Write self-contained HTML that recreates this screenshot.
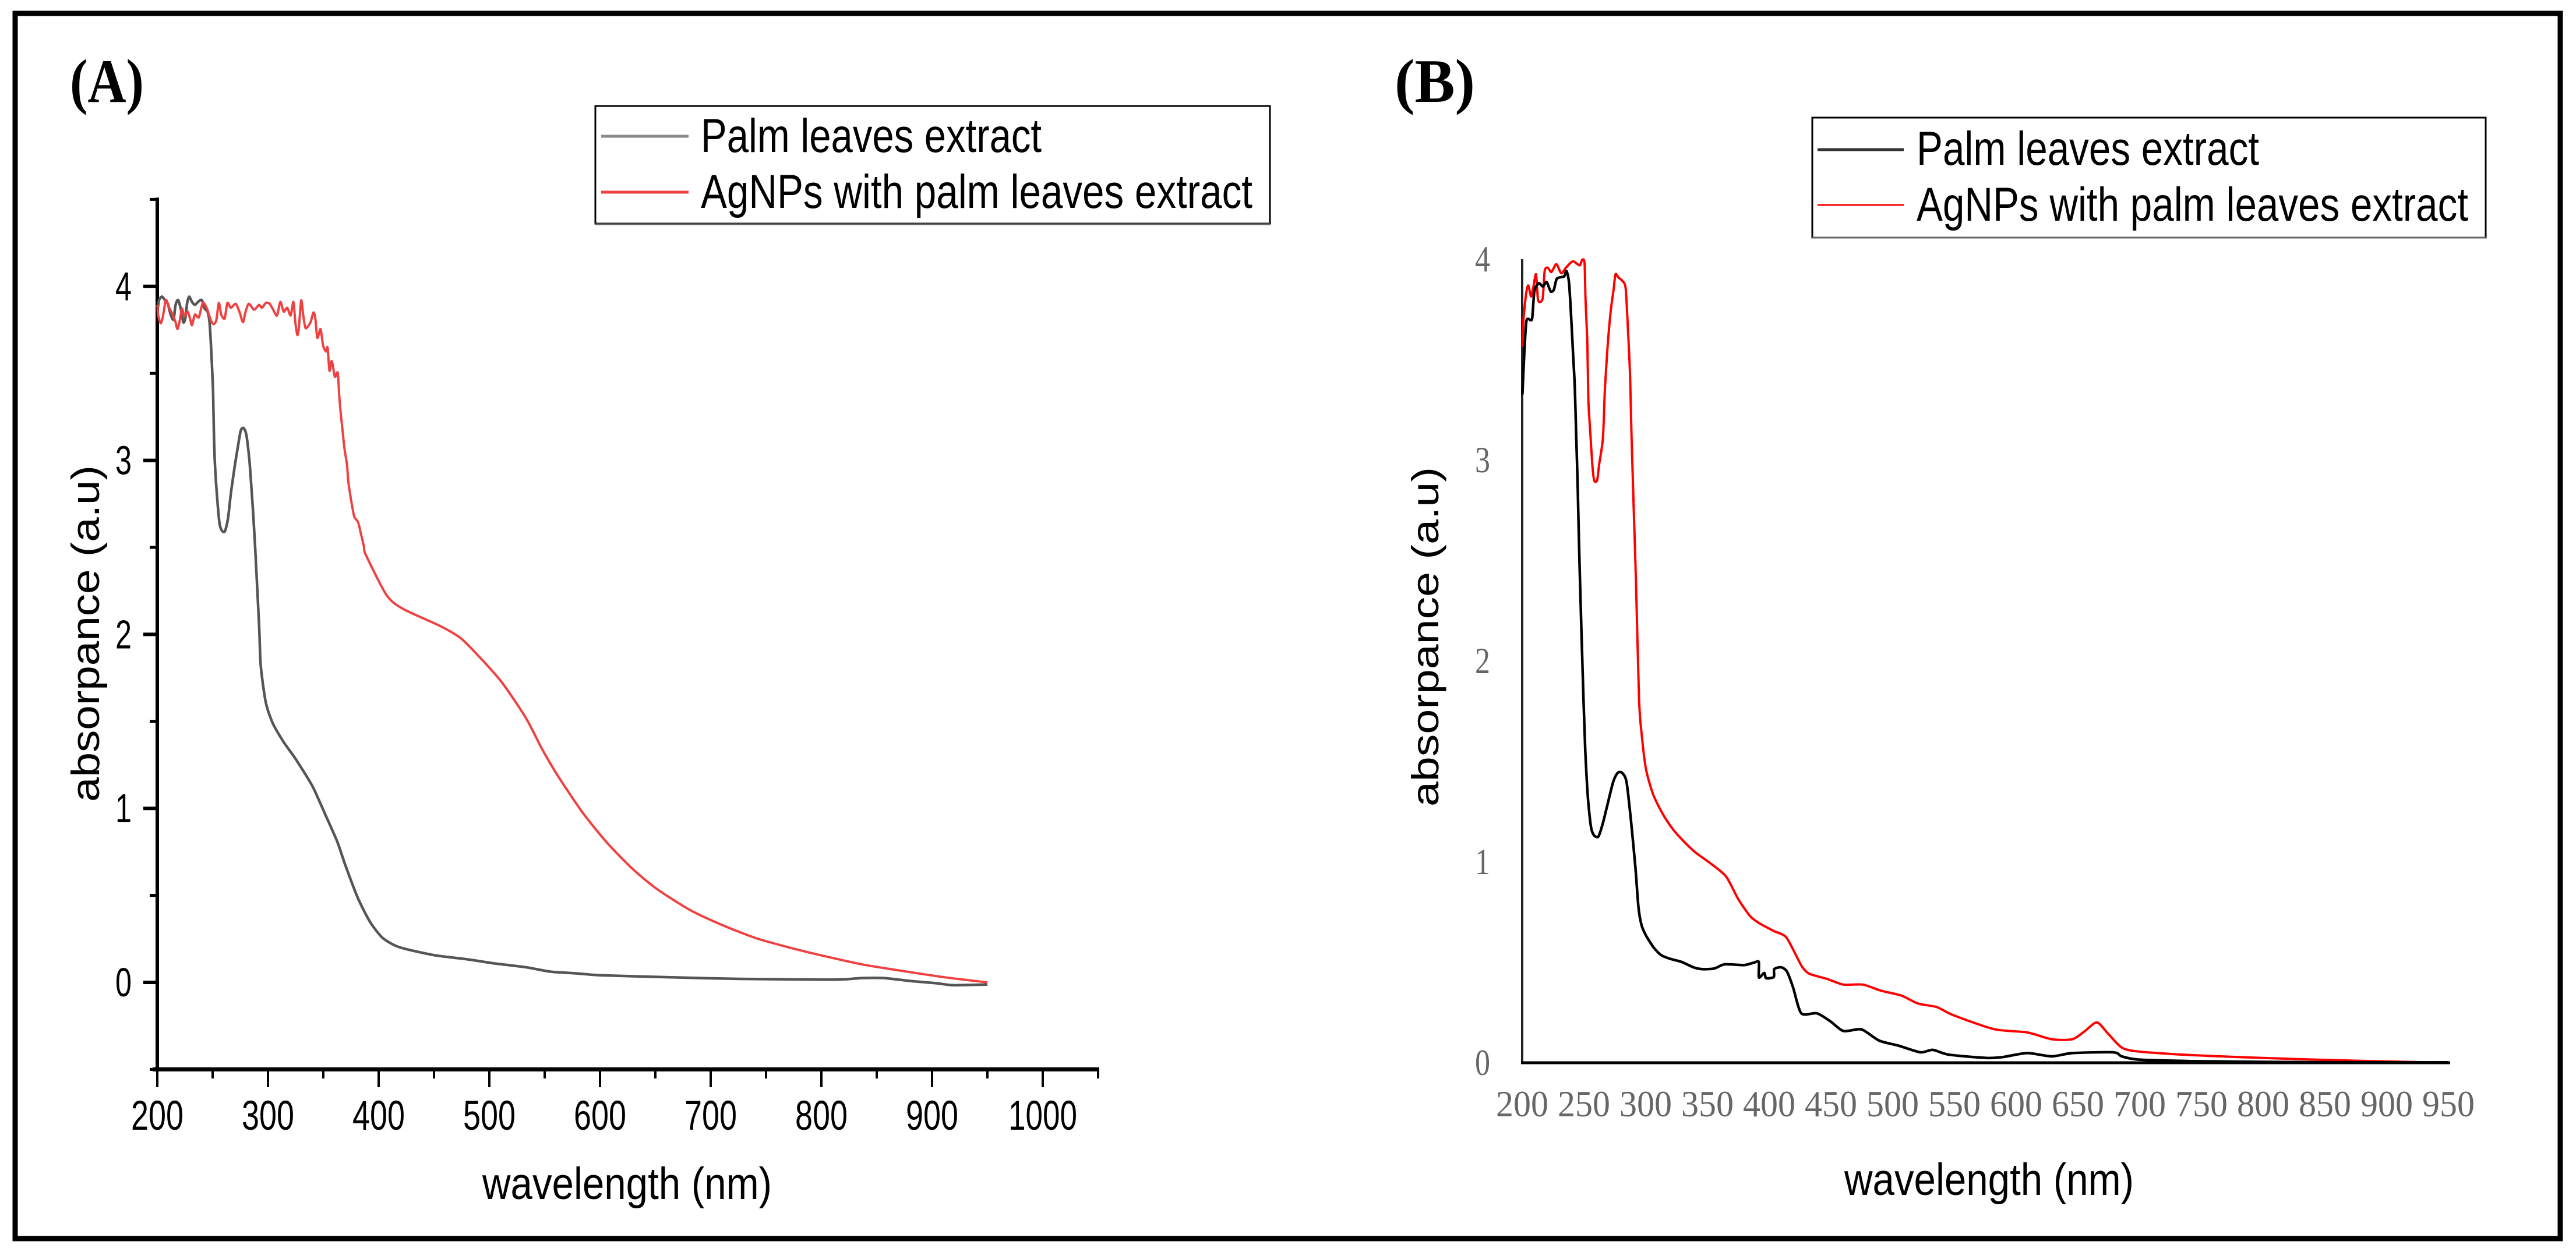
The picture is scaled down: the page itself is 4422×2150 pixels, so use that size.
<!DOCTYPE html>
<html lang="en">
<head>
<meta charset="utf-8">
<title>UV-Vis absorbance spectra</title>
<style>
html,body{margin:0;padding:0;background:#fff;}
svg{display:block;}
</style>
</head>
<body>
<svg id="figure" xmlns="http://www.w3.org/2000/svg" width="4422" height="2150" viewBox="0 0 4422 2150">
  <rect x="0" y="0" width="4422" height="2150" fill="#fff"/>
  <rect x="26" y="23" width="4369" height="2104" fill="none" stroke="#000" stroke-width="9"/>

  <text x="120" y="175" font-family="'Liberation Serif',serif" font-weight="bold" font-size="106" textLength="127" lengthAdjust="spacingAndGlyphs">(A)</text>
  <text x="2394" y="175" font-family="'Liberation Serif',serif" font-weight="bold" font-size="106" textLength="138" lengthAdjust="spacingAndGlyphs">(B)</text>

  <g id="panel-a"></g>
  <g id="panel-b"></g>

  <text transform="translate(170,1377) rotate(-90)" font-family="'Liberation Sans',sans-serif" font-size="68" textLength="578" lengthAdjust="spacingAndGlyphs" fill="#000">absorpance (a.u)</text>
  <text x="828" y="2059" font-family="'Liberation Sans',sans-serif" font-size="77" textLength="497" lengthAdjust="spacingAndGlyphs" fill="#000">wavelength (nm)</text>
  <text transform="translate(2469,1385) rotate(-90)" font-family="'Liberation Sans',sans-serif" font-size="65" textLength="583" lengthAdjust="spacingAndGlyphs" fill="#000">absorpance (a.u)</text>
  <text x="3166" y="2052" font-family="'Liberation Sans',sans-serif" font-size="77" textLength="497" lengthAdjust="spacingAndGlyphs" fill="#000">wavelength (nm)</text>

  <g>
    <rect x="1022" y="182" width="1158" height="202" fill="#fff" stroke="#000" stroke-width="3"/>
    <line x1="1022" y1="385" x2="2180" y2="385" stroke="#666" stroke-width="3"/>
    <line x1="1032" y1="234" x2="1182" y2="234" stroke="#8a8a8a" stroke-width="5"/>
    <text x="1203" y="261" font-family="'Liberation Sans',sans-serif" font-size="82" textLength="585" lengthAdjust="spacingAndGlyphs" fill="#000">Palm leaves extract</text>
    <line x1="1032" y1="330" x2="1182" y2="330" stroke="#f04040" stroke-width="5"/>
    <text x="1203" y="357" font-family="'Liberation Sans',sans-serif" font-size="82" textLength="947" lengthAdjust="spacingAndGlyphs" fill="#000">AgNPs with palm leaves extract</text>
  </g>
  <g>
    <rect x="3111" y="202" width="1156" height="206" fill="#fff" stroke="#000" stroke-width="3"/>
    <line x1="3111" y1="408" x2="4267" y2="408" stroke="#666" stroke-width="3"/>
    <line x1="3120" y1="257" x2="3268" y2="257" stroke="#333" stroke-width="5"/>
    <text x="3290" y="283" font-family="'Liberation Sans',sans-serif" font-size="82" textLength="588" lengthAdjust="spacingAndGlyphs" fill="#000">Palm leaves extract</text>
    <line x1="3120" y1="352" x2="3268" y2="352" stroke="#ff0000" stroke-width="3"/>
    <text x="3290" y="379" font-family="'Liberation Sans',sans-serif" font-size="82" textLength="947" lengthAdjust="spacingAndGlyphs" fill="#000">AgNPs with palm leaves extract</text>
  </g>
</svg>
<script>
var aXMajorTicks = [200,300,400,500,600,700,800,900,1000];
var aXMinorTicks = [250,350,450,550,650,750,850,950,1050];
var aYMajorTicks = [0,1,2,3,4];
var aYMinorTicks = [-0.5,0.5,1.5,2.5,3.5,4.5];
var bXTicks = [200,250,300,350,400,450,500,550,600,650,700,750,800,850,900,950];
var bYTicks = [0,1,2,3,4];

var aExtractWavelength = [200.7,201.6,204.2,206.8,209.5,212.1,214.7,216.5,218.8,221.2,223.5,225.3,227,228.8,231.4,234,236.7,240.2,242.8,245.4,247.2,248.4,249.3,250.4,251.1,251.9,253,254.6,256.3,258.6,261.2,263.9,266.5,270,272.6,275.3,277.9,280.5,283.2,284.9,286.7,288.4,292,293.5,298,304.6,314,325.4,340,351.4,362.5,370,381,392,403,414.4,425.6,451.5,481,503.5,533,555,578,600,659,726,800,822,837,856,882,904,919,950];
var aExtractAbsorbance = [3.883,3.922,3.941,3.922,3.9,3.838,3.81,3.894,3.922,3.872,3.794,3.816,3.905,3.941,3.91,3.894,3.91,3.922,3.872,3.855,3.794,3.671,3.559,3.392,3.169,3.002,2.879,2.745,2.634,2.594,2.594,2.667,2.812,2.968,3.069,3.169,3.186,3.147,3.002,2.857,2.69,2.5,2.05,1.82,1.61,1.486,1.383,1.28,1.13,0.97,0.81,0.672,0.488,0.35,0.259,0.213,0.19,0.155,0.132,0.11,0.087,0.062,0.052,0.041,0.03,0.02,0.016,0.018,0.025,0.025,0.007,-0.005,-0.016,-0.012];

var aAgnpsWavelength = [200.2,200.7,203,205.1,207.7,210.4,213.9,216.5,218.2,220,222.3,224.4,227.5,230,231.4,234,237.5,241.1,244.6,248.1,250.7,253.3,255.6,257.7,260.9,263.3,266.5,270.9,274.4,277.4,279.6,282.6,287.5,291.9,294.6,298.1,301.6,305.1,308.2,311.2,314.2,317.4,320.5,323,324.7,326.5,327.9,330,331.8,334,338.4,341.1,342.8,344.6,347.5,349.8,352.5,353.9,355.6,357.7,360.4,363,364.4,365.6,367.4,369.1,371.4,372.6,374.9,377.9,381.4,384,386.7,388.5,407,421.9,455,473.8,488.6,511,533,548,563,585,607,630,652,681.6,711,741,770.6,800,837,875,911.6,950];
var aAgnpsAbsorbance = [3.894,3.838,3.788,3.827,3.922,3.883,3.838,3.794,3.755,3.794,3.872,3.827,3.855,3.805,3.777,3.838,3.822,3.905,3.877,3.81,3.783,3.805,3.905,3.838,3.816,3.905,3.877,3.9,3.85,3.794,3.85,3.9,3.866,3.894,3.877,3.905,3.9,3.861,3.833,3.911,3.855,3.877,3.833,3.911,3.794,3.721,3.76,3.919,3.838,3.76,3.794,3.85,3.816,3.704,3.755,3.66,3.626,3.649,3.515,3.571,3.481,3.504,3.37,3.281,3.169,3.069,2.974,2.879,2.779,2.678,2.645,2.578,2.505,2.456,2.227,2.147,2.05,1.98,1.887,1.727,1.52,1.337,1.176,0.97,0.798,0.649,0.534,0.415,0.328,0.254,0.201,0.155,0.103,0.064,0.029,0];

var bExtractWavelength = [200.2,201.7,203.3,204.9,208,209.9,213.5,216.7,219.8,223,225.6,228.1,233.9,235.8,237.9,239.5,241,242.6,243.7,245,246.5,249.6,251.1,253.2,255.6,258,261.7,265.3,268.9,273.7,277.3,280.9,284.5,288.1,291.7,294.1,296.6,300.2,306.2,312.2,319.4,329,338.7,345.9,355.5,363.9,379.6,388,391.6,391.7,396,397.6,403.7,404.1,409.7,414.5,419.3,426,438.6,449.4,460.2,474.7,489.1,504.8,522.5,532.4,545.7,575.7,589,608.9,628.8,645.5,678.7,685.4,698.7,741.9,808.4,874.9,950];
var bExtractAbsorbance = [3.326,3.531,3.686,3.703,3.703,3.842,3.88,3.864,3.886,3.84,3.847,3.903,3.914,3.941,3.886,3.731,3.553,3.365,3.132,2.855,2.466,1.812,1.553,1.32,1.178,1.133,1.126,1.191,1.281,1.398,1.443,1.443,1.398,1.204,0.971,0.777,0.686,0.634,0.576,0.537,0.518,0.502,0.475,0.466,0.469,0.49,0.486,0.499,0.501,0.425,0.447,0.421,0.427,0.466,0.475,0.453,0.376,0.246,0.246,0.207,0.158,0.166,0.11,0.085,0.052,0.064,0.04,0.024,0.028,0.048,0.032,0.048,0.052,0.032,0.016,0.008,0.004,0.002,0.002];

var bAgnpsWavelength = [200.2,200.9,203,204.9,207.2,208.8,211.2,212.7,214.3,216.7,218.2,220.6,223.7,227.7,231.6,235.5,241,246.5,248.6,250.5,251.3,252.8,253.6,255.2,256.8,258.3,260.7,262.3,265.4,267,269.3,271.7,274.1,275.6,278,281.1,283.8,285.8,287.4,288.5,290.1,292.1,294.6,296.6,300.2,306.2,314.6,324.2,338.7,353.1,365.2,374.8,384.4,391.6,403.7,413.3,420.5,426.5,432.5,447,460.2,475.9,490.3,507.2,520.4,535.7,549,582.3,608.9,628.8,645.5,655.5,665.4,674.1,685.4,698.7,741.9,808.4,874.9,950];
var bAgnpsAbsorbance = [3.564,3.686,3.82,3.869,3.814,3.853,3.925,3.803,3.786,3.808,3.941,3.958,3.936,3.975,3.93,3.958,3.989,3.969,3.997,3.98,3.797,3.576,3.298,3.132,2.977,2.899,2.899,2.977,3.11,3.354,3.576,3.742,3.853,3.925,3.908,3.892,3.853,3.631,3.409,3.132,2.799,2.4,1.812,1.644,1.463,1.333,1.23,1.146,1.055,0.99,0.926,0.816,0.731,0.696,0.656,0.628,0.55,0.479,0.443,0.417,0.389,0.389,0.359,0.334,0.295,0.277,0.237,0.167,0.151,0.117,0.117,0.157,0.201,0.147,0.076,0.056,0.038,0.022,0.01,0];

var SVGNS = 'http://www.w3.org/2000/svg';
var panelA = document.getElementById('panel-a');
var panelB = document.getElementById('panel-b');

function xScaleA(w){ return 270 + (w - 200) * 1.9; }
function yScaleA(v){ return 1687 - v * 298.8; }
function xScaleB(w){ return 2613 + (w - 200) * 2.12; }
function yScaleB(v){ return 1825 - v * 345; }

function makeLine(parent, x1, y1, x2, y2, color, width){
  var l = document.createElementNS(SVGNS, 'line');
  l.setAttribute('x1', x1);
  l.setAttribute('y1', y1);
  l.setAttribute('x2', x2);
  l.setAttribute('y2', y2);
  l.setAttribute('stroke', color);
  l.setAttribute('stroke-width', width);
  parent.appendChild(l);
  return l;
}
function makeText(parent, x, y, str, family, size, color, anchor, len){
  var t = document.createElementNS(SVGNS, 'text');
  t.setAttribute('x', x);
  t.setAttribute('y', y);
  t.setAttribute('font-family', family);
  t.setAttribute('font-size', size);
  t.setAttribute('fill', color);
  t.setAttribute('text-anchor', anchor);
  t.setAttribute('textLength', len);
  t.setAttribute('lengthAdjust', 'spacingAndGlyphs');
  t.textContent = str;
  parent.appendChild(t);
  return t;
}
function makePath(parent, xs, ys, xf, yf, color, width){
  var px = xs.map(xf);
  var py = ys.map(yf);
  var n = px.length;
  var d = 'M' + px[0].toFixed(1) + ' ' + py[0].toFixed(1);
  for (var i = 0; i < n - 1; i++) {
    var a = Math.max(i - 1, 0);
    var b = Math.min(i + 2, n - 1);
    var c1x = px[i] + (px[i + 1] - px[a]) / 8;
    var c1y = py[i] + (py[i + 1] - py[a]) / 8;
    var c2x = px[i + 1] - (px[b] - px[i]) / 8;
    var c2y = py[i + 1] - (py[b] - py[i]) / 8;
    d += 'C' + c1x.toFixed(1) + ' ' + c1y.toFixed(1) + ' ' + c2x.toFixed(1) + ' ' + c2y.toFixed(1) + ' ' + px[i + 1].toFixed(1) + ' ' + py[i + 1].toFixed(1);
  }
  var p = document.createElementNS(SVGNS, 'path');
  p.setAttribute('d', d);
  p.setAttribute('fill', 'none');
  p.setAttribute('stroke', color);
  p.setAttribute('stroke-width', width);
  p.setAttribute('stroke-linejoin', 'round');
  parent.appendChild(p);
  return p;
}

var SANS = "'Liberation Sans',sans-serif";
var SERIF = "'Liberation Serif',serif";

/* Panel A axes */
var aYLine = makeLine(panelA, xScaleA(200), yScaleA(4.5) - 3, xScaleA(200), yScaleA(-0.5) + 3, '#000', 6);


var aXLine = makeLine(panelA, xScaleA(200) - 8, yScaleA(-0.5), xScaleA(1050) + 2, yScaleA(-0.5), '#000', 7);



aXMajorTicks.forEach(function (w) {
  var tick = makeLine(panelA, xScaleA(w), yScaleA(-0.5), xScaleA(w), 1867, '#000', 4);
  
  
  var label = makeText(panelA, xScaleA(w), 1940, String(w), SANS, 71, '#000', 'middle', w >= 1000 ? 118 : 90);
  
  
});
aXMinorTicks.forEach(function (w) {
  var tick = makeLine(panelA, xScaleA(w), yScaleA(-0.5), xScaleA(w), 1852, '#000', 4);
  
  
});
aYMajorTicks.forEach(function (v) {
  var tick = makeLine(panelA, 246, yScaleA(v), xScaleA(200), yScaleA(v), '#000', 6);
  
  
  var label = makeText(panelA, 226, yScaleA(v) + 24, String(v), SANS, 70, '#000', 'end', 28);
  
  
});
aYMinorTicks.forEach(function (v) {
  var tick = makeLine(panelA, 257, yScaleA(v), xScaleA(200), yScaleA(v), '#000', 5);
  
  
});

var aSeriesExtract = makePath(panelA, aExtractWavelength, aExtractAbsorbance, xScaleA, yScaleA, '#555', 4.5);


var aSeriesAgnps = makePath(panelA, aAgnpsWavelength, aAgnpsAbsorbance, xScaleA, yScaleA, '#f04040', 4);



/* Panel B axes */
var bYLine = makeLine(panelB, xScaleB(200), yScaleB(4), xScaleB(200), yScaleB(0) + 2, '#222', 4);



bXTicks.forEach(function (w) {
  var label = makeText(panelB, xScaleB(w), 1917, String(w), SERIF, 63, '#666', 'middle', 90);
  
  
});
bYTicks.forEach(function (v) {
  var label = makeText(panelB, 2558, yScaleB(v) + 21, String(v), SERIF, 63, '#666', 'end', 26);
  
  
});

var bSeriesAgnps = makePath(panelB, bAgnpsWavelength, bAgnpsAbsorbance, xScaleB, yScaleB, '#ff0000', 4);


var bSeriesExtract = makePath(panelB, bExtractWavelength, bExtractAbsorbance, xScaleB, yScaleB, '#000', 4.5);



var bXLine = makeLine(panelB, xScaleB(200) - 2, yScaleB(0), 4206, yScaleB(0), '#000', 5);


</script>
</body>
</html>
